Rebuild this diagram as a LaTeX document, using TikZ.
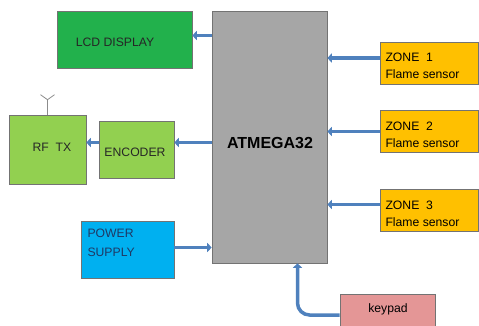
\documentclass[tikz,border=0pt]{standalone}
\usepackage{fontspec}
\setmainfont{Liberation Sans}
\usepackage{tikz}
\usetikzlibrary{positioning, arrows.meta, calc}

\definecolor{lcdgreen}{RGB}{34,177,76}
\definecolor{litegreen}{RGB}{146,208,80}
\definecolor{pwrblue}{RGB}{0,176,240}
\definecolor{zoneorange}{RGB}{255,192,0}
\definecolor{keypink}{RGB}{228,150,150}
\definecolor{mcugray}{RGB}{166,166,166}
\definecolor{arrblue}{RGB}{79,129,189}

\begin{document}
\begin{tikzpicture}[x=1pt, y=-1pt, font=\fontsize{12.2}{14}\selectfont,
    block/.style={draw=black!55, line width=0.6pt, inner sep=0pt},
    arr/.style={draw=arrblue, line width=3.5pt, -{Triangle[length=4.5pt, width=9pt]}}]

    % Rahmen des Bildes
    \useasboundingbox (0,0) rectangle (479,325);

    % --- Bloecke ---
    \node[block, fill=mcugray, minimum width=115pt, minimum height=252pt] (mcu) at (269.5,137) {};
    \node[font=\fontsize{16}{18}\selectfont\bfseries] (mcutxt) at (270,143) {ATMEGA32};

    \node[block, fill=lcdgreen, minimum width=135pt, minimum height=57pt] (lcd) at (124.5,39.5) {};
    \node[text=black!85] (lcdtxt) at (115,42) {LCD DISPLAY};

    \node[block, fill=litegreen, minimum width=77pt, minimum height=69pt] (rf) at (47.5,149.5) {};
    \node[text=black!85] (rftxt) at (52,147) {RF\ \ TX};

    \node[block, fill=litegreen, minimum width=75pt, minimum height=57pt] (enc) at (136.5,149.5) {};
    \node[text=black!85] (enctxt) at (135,152) {ENCODER};

    \node[block, fill=pwrblue, minimum width=93pt, minimum height=57pt] (pwr) at (127.5,249.5) {};
    \node[text={rgb,255:red,31;green,56;blue,100}, align=left, anchor=north west,
          font=\fontsize{12.2}{19}\selectfont] (pwrtxt) at (84,225) {POWER\\SUPPLY};

    % Sensoren der Zonen
    \foreach \n/\yc in {1/63, 2/131.5, 3/210.5}{
        \node[block, fill=zoneorange, minimum width=98pt, minimum height=42pt] (zone\n) at (429,\yc) {};
        \node[align=left, anchor=west, font=\fontsize{12.2}{17}\selectfont] (zonetxt\n) at (382,\yc+3)
            {ZONE\ \ \n\\Flame sensor};
    }

    \node[block, fill=keypink, minimum width=95pt, minimum height=34pt] (kp) at (387.5,311) {};
    \node (kptxt) at (388,309) {keypad};

    % Antenne
    \coordinate (ant) at ($(rf.north)+(0,-15)$);
    \draw[black!45, line width=0.8pt] (rf.north) -- (ant);
    \draw[black!45, line width=0.8pt] ($(ant)+(-7,-5)$) -- (ant) -- ($(ant)+(7,-5)$);

    % --- Verbindungen ---
    \draw[arr] ([yshift=4pt]lcd.east -| mcu.west) -- ([yshift=4pt]lcd.east);
    \draw[arr] ([yshift=7pt]enc.east -| mcu.west) -- ([yshift=7pt]enc.east);
    \draw[arr] ([yshift=7pt]enc.west) -- ([yshift=7pt]rf.east);
    \draw[arr] ([yshift=2pt]pwr.east) -- ([yshift=2pt]pwr.east -| mcu.west);
    \foreach \n/\dy in {1/5, 2/0, 3/6}{
        \draw[arr] ([yshift=\dy pt]zone\n.west) -- ([yshift=\dy pt]zone\n.west -| mcu.east);
    }
    \draw[arr, rounded corners=12pt] ([yshift=-4pt]kp.west) -| ([xshift=28pt]mcu.south);

\end{tikzpicture}
\end{document}
